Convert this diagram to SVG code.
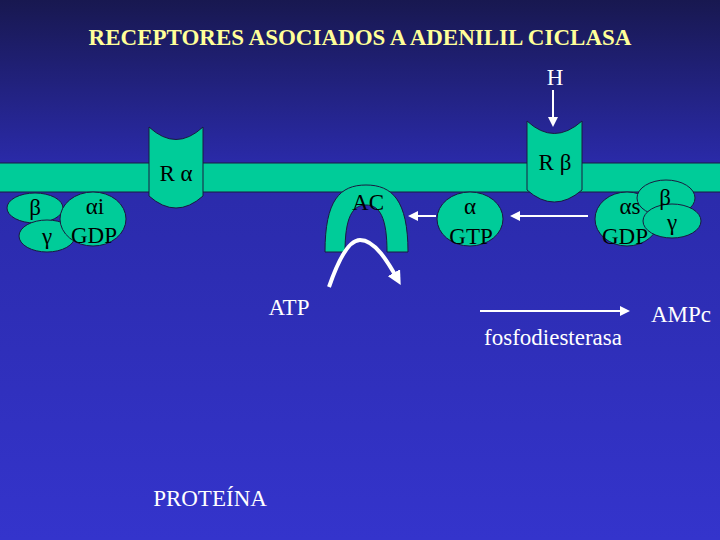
<svg xmlns="http://www.w3.org/2000/svg" width="720" height="540" viewBox="0 0 720 540">
<defs>
<linearGradient id="bg" x1="0" y1="0" x2="0" y2="1">
<stop offset="0" stop-color="#181850"/>
<stop offset="0.3" stop-color="#2a2aa8"/>
<stop offset="1" stop-color="#3434cc"/>
</linearGradient>
<marker id="ah" viewBox="0 0 10 10" refX="8" refY="5" markerWidth="5" markerHeight="5" orient="auto">
<path d="M0,0 L10,5 L0,10 z" fill="#ffffff"/>
</marker>
<marker id="ah2" viewBox="0 0 10 10" refX="6" refY="5" markerWidth="3.5" markerHeight="3.5" orient="auto">
<path d="M0,0 L10,5 L0,10 z" fill="#ffffff"/>
</marker>
</defs>
<style>
.g{fill:#00cc99;stroke:#1a1a40;stroke-width:1}
.t{font-family:"Liberation Serif",serif;fill:#000;font-size:23px;text-anchor:middle}
.w{font-family:"Liberation Serif",serif;fill:#fff;font-size:23px;text-anchor:middle}
.a{stroke:#fff;stroke-width:2;fill:none;marker-end:url(#ah)}
</style>
<rect width="720" height="540" fill="url(#bg)"/>
<text x="360" y="45" font-family="Liberation Serif,serif" font-weight="bold" font-size="23" fill="#ffff99" text-anchor="middle">RECEPTORES ASOCIADOS A ADENILIL CICLASA</text>
<g id="membrane"><rect class="g" x="-2" y="163" width="724" height="29"/></g>
<g id="Ralpha">
<path class="g" d="M149,127 Q176,152 203,127 L203,196 Q176,220 149,196 Z"/>
<text class="t" x="176" y="181">R α</text>
</g>
<g id="Rbeta">
<path class="g" d="M527,121 Q554,146 582,121 L582,190 Q554,214 527,190 Z"/>
<text class="t" x="555" y="170">R β</text>
</g>
<g id="AC">
<path class="g" d="M325,252 C325,200 340,185 366,185 C392,185 408,200 408,252 L387,252 C387,218 380,205 366,205 C352,205 345,218 345,252 Z"/>
<text class="t" x="368" y="210">AC</text>
</g>
<g id="Gi">
<ellipse class="g" cx="35" cy="208" rx="28" ry="15"/>
<ellipse class="g" cx="47" cy="236" rx="28" ry="16"/>
<ellipse class="g" cx="93" cy="219" rx="33" ry="27"/>
<text class="t" x="35" y="215">β</text>
<text class="t" x="47" y="244">γ</text>
<text class="t" x="95" y="214">αi</text>
<text class="t" x="94" y="243">GDP</text>
</g>
<g id="aGTP">
<ellipse class="g" cx="470" cy="219" rx="33" ry="27"/>
<text class="t" x="470" y="214">α</text>
<text class="t" x="471" y="244">GTP</text>
</g>
<g id="Gs">
<ellipse class="g" cx="627" cy="219" rx="32" ry="27"/>
<text class="t" x="630" y="214">αs</text>
<text class="t" x="625" y="244">GDP</text>
<ellipse class="g" cx="666" cy="198" rx="29" ry="18"/>
<ellipse class="g" cx="672" cy="221" rx="29" ry="17"/>
<text class="t" x="665" y="205">β</text>
<text class="t" x="672" y="230">γ</text>
</g>
<g id="connectors">
<line class="a" x1="553" y1="90" x2="553" y2="125"/>
<line class="a" x1="588" y1="216" x2="512" y2="216"/>
<line class="a" x1="436" y1="216" x2="410" y2="216"/>
<path style="stroke:#fff;stroke-width:4;fill:none;marker-end:url(#ah2)" d="M329,287 C340,255 350,240 360,240 C375,240 388,262 398,280"/>
<line class="a" x1="480" y1="311" x2="628" y2="311"/>
</g>
<text class="w" x="555" y="85">H</text>
<text class="w" x="289" y="315">ATP</text>
<text class="w" x="553" y="345">fosfodiesterasa</text>
<text class="w" x="681" y="322">AMPc</text>
<text class="w" x="210" y="506">PROTEÍNA</text>
</svg>
